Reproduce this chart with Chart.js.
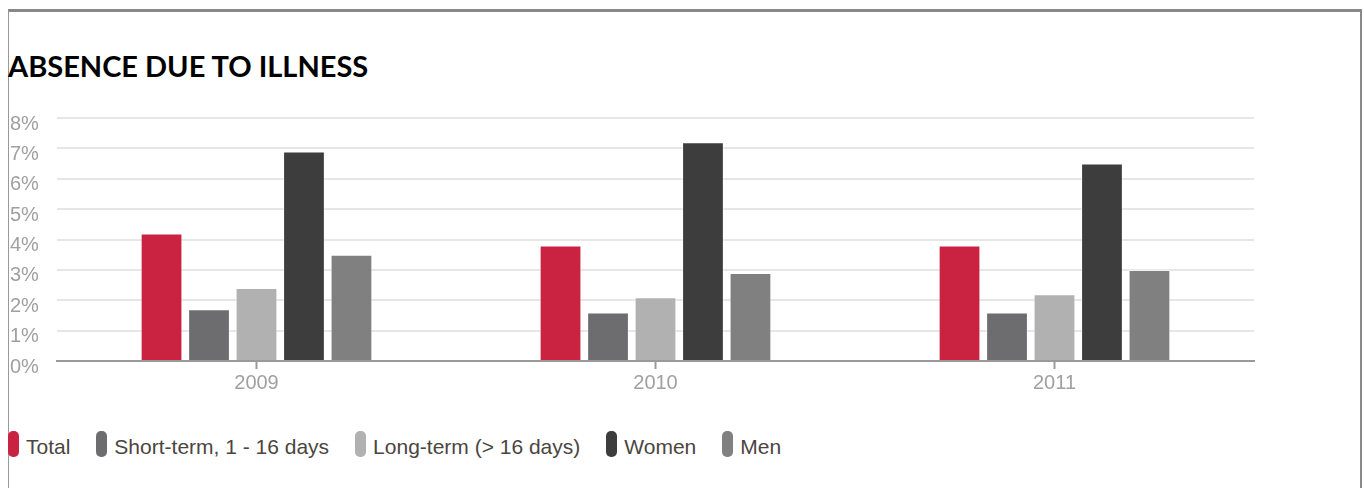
<!DOCTYPE html>
<html>
<head>
<meta charset="utf-8">
<title>Absence due to illness</title>
<script src="https://cdn.jsdelivr.net/npm/chart.js@4/dist/chart.umd.min.js"></script>
<style>
    html, body {
        margin: 0;
        padding: 0;
        width: 1364px;
        height: 488px;
        overflow: hidden;
        background: #fff;
    }
    .frame {
        position: absolute;
        left: 8px;
        top: 9px;
        width: 1354px;
        height: 600px;
        box-sizing: border-box;
        border-top: 3px solid #888;
        border-left: 1px solid #999;
        border-right: 2px solid #888;
    }
    h1 {
        position: absolute;
        left: 8px;
        top: 49px;
        margin: 0;
        font-family: Lato, "DejaVu Sans", sans-serif;
        font-weight: 700;
        font-size: 29px;
        line-height: 1.2;
        color: #000;
    }
    #chartBox {
        position: absolute;
        left: 0;
        top: 100px;
        width: 1364px;
        height: 300px;
    }
    #legend {
        position: absolute;
        left: 8px;
        top: 431px;
        display: flex;
        gap: 26px;
        font-family: "Liberation Sans", Arial, sans-serif;
        font-size: 21px;
        color: #4b4542;
    }
    .legend-item {
        display: flex;
        align-items: flex-start;
    }
    .legend-swatch {
        width: 11px;
        height: 26px;
        border-radius: 5px;
        margin-right: 7px;
    }
    .legend-text {
        line-height: 26px;
        position: relative;
        top: 3px;
    }
</style>
</head>
<body>
<div class="frame"></div>
<h1>ABSENCE DUE TO ILLNESS</h1>
<div id="chartBox"><canvas id="absenceChart" width="1364" height="300"></canvas></div>
<div id="legend"></div>

<script>
// Years on the x axis
const years = ['2009', '2010', '2011'];

// Absence rates in percent, one array per series
const totalRate = [4.2, 3.8, 3.8];
const shortTermRate = [1.7, 1.6, 1.6];
const longTermRate = [2.4, 2.1, 2.2];
const womenRate = [6.9, 7.2, 6.5];
const menRate = [3.5, 2.9, 3.0];

// Y axis runs 0% - 8% in whole steps
const yTickValues = [0, 1, 2, 3, 4, 5, 6, 7, 8];

const seriesNames = ['Total', 'Short-term, 1 - 16 days', 'Long-term (> 16 days)', 'Women', 'Men'];
const seriesValues = [totalRate, shortTermRate, longTermRate, womenRate, menRate];
const seriesColors = ['#ca2341', '#6d6d6f', '#b1b1b1', '#3d3d3d', '#808080'];

const axisFont = { family: '"Liberation Sans", Arial, sans-serif', size: 20 };

const datasets = seriesNames.map((name, i) => ({
    label: name,
    data: seriesValues[i],
    backgroundColor: seriesColors[i],
    borderColor: 'rgba(255, 255, 255, 0.55)',
    borderWidth: 1,
    categoryPercentage: 0.595,
    barPercentage: 0.88
}));

const ctx = document.getElementById('absenceChart').getContext('2d');
const absenceChart = new Chart(ctx, {
    type: 'bar',
    data: {
        labels: years,
        datasets: datasets
    },
    options: {
        responsive: false,
        animation: false,
        layout: {
            padding: { top: 18, left: 10, right: 110, bottom: 3 }
        },
        plugins: {
            legend: { display: false },
            tooltip: { enabled: false }
        },
        scales: {
            x: {
                grid: {
                    display: true,
                    offset: false,
                    drawOnChartArea: false,
                    drawTicks: true,
                    tickLength: 8,
                    tickWidth: 2,
                    tickColor: '#9a9a9a'
                },
                border: {
                    display: true,
                    color: '#9a9a9a',
                    width: 2
                },
                ticks: {
                    color: '#a0a0a0',
                    font: axisFont,
                    padding: 2
                }
            },
            y: {
                min: yTickValues[0],
                max: yTickValues[yTickValues.length - 1],
                afterBuildTicks: scale => {
                    scale.ticks = yTickValues.map(v => ({ value: v }));
                },
                afterFit: scale => {
                    scale.width = 47;
                },
                grid: {
                    color: '#e6e6e6',
                    lineWidth: 2,
                    drawTicks: false
                },
                border: { display: false },
                ticks: {
                    color: '#a0a0a0',
                    font: axisFont,
                    crossAlign: 'far',
                    labelOffset: 6,
                    callback: value => value + '%'
                }
            }
        }
    }
});

// Legend built from the chart's own datasets
const legendBox = document.getElementById('legend');
absenceChart.data.datasets.forEach(ds => {
    const item = document.createElement('div');
    item.className = 'legend-item';

    const swatch = document.createElement('span');
    swatch.className = 'legend-swatch';
    swatch.style.background = ds.backgroundColor;

    const text = document.createElement('span');
    text.className = 'legend-text';
    text.textContent = ds.label;

    item.appendChild(swatch);
    item.appendChild(text);
    legendBox.appendChild(item);
});
</script>
</body>
</html>
